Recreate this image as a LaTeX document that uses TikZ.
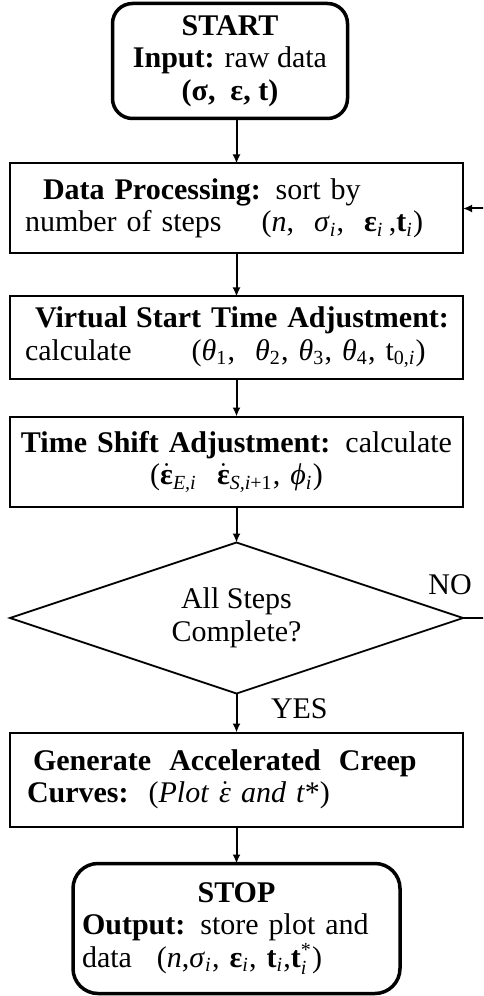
\documentclass[tikz,border=0pt]{standalone}
\usepackage{amsmath}
\usepackage{fontspec}
\setmainfont{Liberation Serif}
\usetikzlibrary{positioning,shapes.geometric,arrows.meta}

% symbols set in the text font inside math sub/superscripts
\newcommand{\symi}[1]{\text{\textit{#1}}}
\newcommand{\symb}[1]{\text{\textbf{#1}}}

\tikzset{
  every node/.style={font=\fontsize{12}{13}\selectfont},
  stepbox/.style={draw,line width=0.8pt,rectangle,minimum width=181.2pt,text width=179pt,
    inner sep=0pt,outer sep=0pt,align=left},
  termbox/.style={draw,line width=1.4pt,rounded corners=8pt,inner sep=0pt,outer sep=0pt,align=center},
  decision/.style={draw,line width=0.7pt,diamond,aspect=3,minimum width=181.2pt,minimum height=60.4pt,
    inner sep=0pt,outer sep=0pt,align=center},
  flow/.style={line width=0.8pt,-{Latex[length=3.6pt,width=3.2pt]}},
  lbl/.style={inner sep=0pt}
}

\begin{document}
\begin{tikzpicture}
\useasboundingbox (0,0) rectangle (193.2pt,-398.4pt);
\clip (0,0) rectangle (193.2pt,-398.4pt);

\node[termbox,minimum width=94pt,minimum height=46pt,anchor=north] (start) at (92pt,-1.4pt)
  {\textbf{START}\\\textbf{Input:} raw data\\\textbf{(σ,~ ε, t)}};
\node[stepbox,minimum height=36pt,below=18pt of start,xshift=2.6pt] (dp)
  {\hspace*{12.1pt}\textbf{Data Processing:} sort by\\
   \hspace*{4.9pt}number of steps\hspace{16pt}(\textit{n},~ \textit{σ}$_{\symi{i}}$,~ \textbf{ε}$_{\symi{i}}$\,,\textbf{t}$_{\symi{i}}$)};
\node[stepbox,minimum height=32.8pt,below=17.2pt of dp] (vst)
  {\hspace*{8.9pt}\textbf{Virtual\hspace{0.3em}Start Time Adjustment:}\\
   \hspace*{4.9pt}calculate\hspace{24pt}(\textit{θ}$_{\text{1}}$,~ \textit{θ}$_{\text{2}}$, \textit{θ}$_{\text{3}}$, \textit{θ}$_{\text{4}}$, t$_{\text{0,}\symi{i}}$)};
\node[stepbox,minimum height=36pt,below=15.2pt of vst,align=center] (tsa)
  {\textbf{Time Shift Adjustment:} calculate\\
   ($\dot{\symb{ε}}_{\symi{E,i}}$ \ $\dot{\symb{ε}}_{\symi{S,i}\text{+1}}$, \textit{ϕ}$_{\symi{i}}$)};
\node[decision,below=14.4pt of tsa] (check) {All Steps\\Complete?};
\node[stepbox,minimum height=37.6pt,below=15.6pt of check] (gacc)
  {\hspace*{8.1pt}\textbf{Generate\hspace{0.6em}Accelerated\hspace{0.6em}Creep}\\
   \hspace*{5.7pt}\textbf{Curves:}\hspace{8pt}(\textit{Plot} $\dot{\symi{ε}}$ \textit{and t}*)};
\node[termbox,rounded corners=10pt,minimum width=130.8pt,minimum height=52pt,text width=123.6pt,
  align=left,below=14.8pt of gacc] (stop)
  {{\centering\textbf{STOP}\par}
   \textbf{Output:} store plot and\\
   data\hspace{10pt}(\textit{n},\textit{σ}$_{\symi{i}}$, \textbf{ε}$_{\symi{i}}$, \textbf{t}$_{\symi{i}}$,\textbf{t}$_{\symi{i}}^{\text{*}}$)};

\node[lbl] (no) at ([shift={(-5.2pt,13.2pt)}]check.east) {NO};
\coordinate (loop) at (197pt,0);

% main flow
\draw[flow] (start.south -| dp.north) -- (dp.north);
\draw[flow] (dp) -- (vst);
\draw[flow] (vst) -- (tsa);
\draw[flow] (tsa) -- (check);
\draw[flow] (check) -- node[lbl,anchor=west,xshift=13.4pt,pos=0.4] (yes) {YES} (gacc);
\draw[flow] (gacc) -- (stop);
% back to processing when steps remain
\draw[flow] (check.east) -- (check.east -| loop) |- (dp.east);
\end{tikzpicture}
\end{document}
